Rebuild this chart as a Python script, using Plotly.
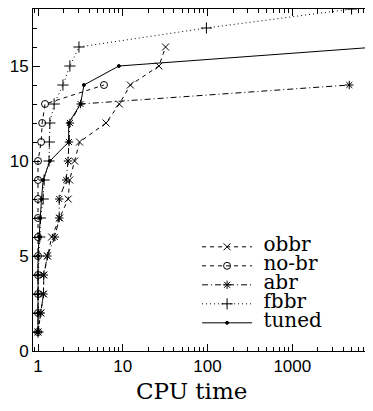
import plotly.graph_objects as go

# Data: CPU time (x) at which the n-th problem was solved (y = n)
obbr_x = [1.0, 1.08, 1.16, 1.17, 1.29, 1.45, 1.80, 2.27, 2.36, 2.70, 3.09, 6.35, 9.1, 12.3, 26.7, 32.0]
nobr_x = [1.0, 1.0, 1.0, 1.0, 1.0, 1.0, 1.0, 1.0, 1.0, 1.0, 1.09, 1.12, 1.21, 6.0]
abr_x = [1.0, 1.08, 1.16, 1.17, 1.29, 1.58, 1.78, 1.78, 2.15, 2.26, 2.32, 2.38, 3.18, 4700]
fbbr_x = [1.0, 1.0, 1.0, 1.0, 1.02, 1.05, 1.07, 1.15, 1.18, 1.35, 1.36, 1.38, 1.55, 1.97, 2.38, 3.04, 97, 5000]
tuned_x = [1.0, 1.0, 1.0, 1.0, 1.0, 1.03, 1.06, 1.1, 1.15, 1.38, 2.3, 2.3, 3.18, 3.48, 9.0, 10000]

series_names = ["obbr", "no-br", "abr", "fbbr", "tuned"]
x_tickvals = [1, 10, 100, 1000]
x_ticktext = ["1", "10", "100", "1000"]
y_tickvals = [0, 5, 10, 15]
x_title = "CPU time"

series = [obbr_x, nobr_x, abr_x, fbbr_x, tuned_x]
styles = [
    dict(dash="4px,4px", symbol="x-thin-open", size=7),
    dict(dash="4px,4px", symbol="circle-open", size=7),
    dict(dash="6px,3px,1px,3px", symbol="asterisk-open", size=7),
    dict(dash="1px,3px", symbol="cross-thin-open", size=8),
    dict(dash="solid", symbol="circle", size=3),
]

fig = go.Figure()
for name, xs, st in zip(series_names, series, styles):
    fig.add_trace(go.Scatter(
        x=xs, y=list(range(1, len(xs) + 1)),
        mode="lines+markers",
        name='<span style="font-size:20px"> ' + name + '</span>',
        line=dict(color="black", width=1, dash=st["dash"]),
        marker=dict(symbol=st["symbol"], size=st["size"], color="black",
                    line=dict(color="black", width=1)),
        cliponaxis=True,
    ))

axis_common = dict(
    showline=True, linecolor="black", linewidth=1, mirror="allticks",
    ticks="inside", tickcolor="black", ticklen=7, tickwidth=1,
    showgrid=False, zeroline=False, automargin=False,
    tickfont=dict(family="Liberation Sans", size=17, color="black"),
)

fig.update_xaxes(
    type="log", range=[-0.059, 3.94],
    tickvals=x_tickvals, ticktext=x_ticktext,
    minor=dict(ticks="inside", ticklen=4, tickcolor="black", dtick="D1", showgrid=False),
    **axis_common,
)
fig.update_yaxes(
    range=[0, 18], tickvals=y_tickvals,
    minor=dict(ticks="inside", ticklen=4, tickcolor="black", dtick=1, showgrid=False),
    **axis_common,
)

# page has an 8px body margin: figure is sized/offset to compensate
fig.add_annotation(
    text=x_title, xref="paper", yref="paper", x=0.469, y=-0.072,
    xanchor="center", yanchor="top", showarrow=False,
    font=dict(family="DejaVu Serif", size=23, color="black"),
)

fig.update_layout(
    width=365, height=403,
    margin=dict(l=25, r=1, t=1, b=60, autoexpand=False),
    paper_bgcolor="white", plot_bgcolor="white",
    showlegend=True,
    legend=dict(
        x=0.484, y=0.347, xanchor="left", yanchor="top",
        bgcolor="rgba(0,0,0,0)", borderwidth=0,
        font=dict(family="DejaVu Serif", size=11, color="black"),
        itemwidth=50, tracegroupgap=0,
    ),
)

fig.write_html("out.html")
